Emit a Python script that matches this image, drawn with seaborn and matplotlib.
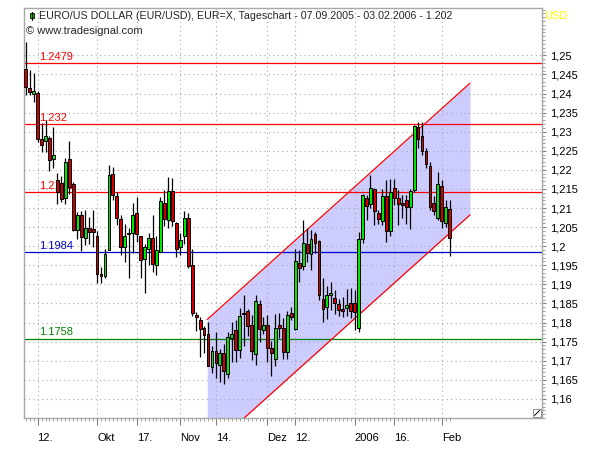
import numpy as np
import pandas as pd
import seaborn as sns
import matplotlib.pyplot as plt
from matplotlib.patches import Rectangle
from matplotlib.lines import Line2D
from matplotlib.ticker import MultipleLocator, FuncFormatter

# daily EUR/USD candles, 07.09.2005 - 03.02.2006
opens = [1.2463, 1.2414, 1.2398, 1.2402, 1.2280, 1.2275, 1.2284, 1.2228, 1.2173, 1.2165,
         1.2127, 1.2228, 1.2162, 1.2042, 1.2081, 1.2021, 1.2047, 1.2044, 1.2028, 1.1926,
         1.1921, 1.1990, 1.2190, 1.2131, 1.2070, 1.1998, 1.2034, 1.2034, 1.2087, 1.2026,
         1.1967, 1.1992, 1.2022, 1.1952, 1.1985, 1.2114, 1.2068, 1.2144, 1.2062, 1.1998,
         1.2027, 1.2075, 1.1952, 1.1819, 1.1808, 1.1787, 1.1769, 1.1684, 1.1726, 1.1690,
         1.1721, 1.1666, 1.1760, 1.1780, 1.1728, 1.1824, 1.1829, 1.1793, 1.1717, 1.1849,
         1.1781, 1.1793, 1.1734, 1.1705, 1.1793, 1.1787, 1.1723, 1.1824, 1.1784, 1.1957,
         1.1948, 1.2007, 1.1980, 1.2033, 1.2013, 1.1863, 1.1841, 1.1871, 1.1865, 1.1849,
         1.1836, 1.1839, 1.1850, 1.1850, 1.1785, 1.2020, 1.2127, 1.2111, 1.2151, 1.2088,
         1.2066, 1.2131, 1.2040, 1.2153, 1.2125, 1.2113, 1.2122, 1.2103, 1.2146, 1.2311,
         1.2288, 1.2249, 1.2209, 1.2113, 1.2075, 1.2159, 1.2061, 1.2097]
highs = [1.2535, 1.2461, 1.2455, 1.2406, 1.2322, 1.2330, 1.2290, 1.2311, 1.2193, 1.2183,
         1.2230, 1.2275, 1.2167, 1.2089, 1.2091, 1.2094, 1.2076, 1.2094, 1.2039, 1.1945,
         1.1994, 1.2212, 1.2207, 1.2141, 1.2081, 1.2057, 1.2047, 1.2112, 1.2128, 1.2028,
         1.2007, 1.2034, 1.2083, 1.2028, 1.2128, 1.2146, 1.2180, 1.2178, 1.2064, 1.2035,
         1.2093, 1.2086, 1.1994, 1.1827, 1.1814, 1.1790, 1.1801, 1.1738, 1.1774, 1.1732,
         1.1743, 1.1775, 1.1801, 1.1808, 1.1837, 1.1871, 1.1835, 1.1821, 1.1871, 1.1858,
         1.1814, 1.1821, 1.1753, 1.1823, 1.1824, 1.1811, 1.1829, 1.1841, 1.1994, 1.1991,
         1.2068, 1.2047, 1.2042, 1.2037, 1.2015, 1.1918, 1.1897, 1.1906, 1.1884, 1.1863,
         1.1866, 1.1889, 1.1890, 1.1884, 1.2037, 1.2138, 1.2133, 1.2187, 1.2153, 1.2094,
         1.2151, 1.2173, 1.2177, 1.2177, 1.2146, 1.2133, 1.2133, 1.2151, 1.2317, 1.2325,
         1.2325, 1.2256, 1.2220, 1.2131, 1.2194, 1.2173, 1.2120, 1.2120]
lows = [1.2395, 1.2395, 1.2379, 1.2273, 1.2247, 1.2248, 1.2196, 1.2204, 1.2110, 1.2115,
        1.2110, 1.2136, 1.2039, 1.2018, 1.1987, 1.2002, 1.2007, 1.1999, 1.1903, 1.1903,
        1.1918, 1.1989, 1.2120, 1.2055, 1.1976, 1.1958, 1.1918, 1.1981, 1.2010, 1.1918,
        1.1878, 1.1950, 1.1933, 1.1924, 1.1984, 1.2052, 1.2047, 1.2052, 1.1971, 1.1976,
        1.2007, 1.1942, 1.1816, 1.1777, 1.1709, 1.1719, 1.1685, 1.1667, 1.1654, 1.1643,
        1.1639, 1.1654, 1.1696, 1.1696, 1.1706, 1.1738, 1.1766, 1.1701, 1.1690, 1.1748,
        1.1769, 1.1696, 1.1659, 1.1685, 1.1759, 1.1704, 1.1704, 1.1806, 1.1780, 1.1906,
        1.1937, 1.1958, 1.1937, 1.1981, 1.1858, 1.1801, 1.1810, 1.1832, 1.1823, 1.1816,
        1.1814, 1.1816, 1.1811, 1.1780, 1.1774, 1.2008, 1.2068, 1.2099, 1.2055, 1.2059,
        1.2055, 1.2011, 1.2028, 1.2107, 1.2055, 1.2075, 1.2059, 1.2046, 1.2142, 1.2258,
        1.2238, 1.2204, 1.2094, 1.2083, 1.2068, 1.2047, 1.2050, 1.1974]
closes = [1.2416, 1.2403, 1.2407, 1.2281, 1.2266, 1.2290, 1.2226, 1.2240, 1.2142, 1.2123,
          1.2220, 1.2155, 1.2042, 1.2081, 1.2023, 1.2048, 1.2038, 1.2038, 1.1926, 1.1921,
          1.1980, 1.2187, 1.2133, 1.2074, 1.1997, 1.2028, 1.2032, 1.2083, 1.2031, 1.1965,
          1.1998, 1.2022, 1.1954, 1.1991, 1.2118, 1.2070, 1.2144, 1.2066, 1.1992, 1.2015,
          1.2075, 1.1949, 1.1825, 1.1815, 1.1782, 1.1768, 1.1687, 1.1725, 1.1694, 1.1721,
          1.1673, 1.1761, 1.1771, 1.1727, 1.1816, 1.1823, 1.1791, 1.1726, 1.1856, 1.1784,
          1.1793, 1.1734, 1.1719, 1.1787, 1.1785, 1.1722, 1.1821, 1.1814, 1.1960, 1.1943,
          1.2009, 1.1982, 1.2020, 1.2008, 1.1873, 1.1836, 1.1873, 1.1878, 1.1852, 1.1832,
          1.1830, 1.1847, 1.1829, 1.1828, 1.2018, 1.2135, 1.2105, 1.2153, 1.2092, 1.2072,
          1.2131, 1.2040, 1.2142, 1.2125, 1.2111, 1.2107, 1.2103, 1.2144, 1.2314, 1.2282,
          1.2249, 1.2216, 1.2103, 1.2092, 1.2162, 1.2066, 1.2104, 1.2022]

tick_dates = ['2005-09-12', '2005-10-03', '2005-10-17', '2005-11-01', '2005-11-14',
              '2005-12-01', '2005-12-12', '2006-01-02', '2006-01-16', '2006-02-01']
tick_labels = ['12.', 'Okt', '17.', 'Nov', '14.', 'Dez', '12.', '2006', '16.', 'Feb']

level_values = [1.2479, 1.232, 1.2141, 1.1984, 1.1758]
level_labels = ['1.2479', '1.232', '1.2141', '1.1984', '1.1758']
level_colors = ['#ff0000', '#ff0000', '#ff0000', '#0000cc', '#008000']

# trend channel (bar index, price)
chan_x = [45.8, 112.1]
chan_upper = [1.1808, 1.2427]
chan_lower = [1.1463, 1.2082]

df = pd.DataFrame({'date': pd.bdate_range('2005-09-07', periods=len(opens)),
                   'open': opens, 'high': highs, 'low': lows, 'close': closes})
df['i'] = np.arange(len(df))
bull = df['close'] >= df['open']

sns.set_theme(style='white')
plt.rcParams['font.family'] = ['Liberation Sans', 'DejaVu Sans']

fig = plt.figure(figsize=(6, 4.5), dpi=100)
ax = fig.add_axes([24 / 600, 1 - 418 / 450, 517.5 / 600, 410 / 450])

# channel
ax.fill_between(chan_x, chan_lower, chan_upper, color='#ccccff', lw=0, zorder=0.2)
sns.lineplot(x=chan_x, y=chan_upper, color='#ff0000', lw=0.9, ax=ax, zorder=2)
sns.lineplot(x=chan_x, y=chan_lower, color='#ff0000', lw=0.9, ax=ax, zorder=2)

# horizontal levels
for v, lab, c in zip(level_values, level_labels, level_colors):
    ax.axhline(v, color=c, lw=0.9, zorder=1.5)
    ax.text(0.029, v + 0.0003, lab, transform=ax.get_yaxis_transform(),
            color=c, fontsize=8, va='bottom', ha='left', zorder=1.6)

# candles
ax.vlines(df['i'], df['low'], df['high'], color='black', lw=0.9, zorder=3)
ax.bar(df['i'], (df['close'] - df['open']).abs(),
       bottom=df[['open', 'close']].min(axis=1), width=0.72,
       color=np.where(bull, '#00e600', '#cc0000'), edgecolor='black',
       linewidth=0.7, zorder=4)

ax.set_xlim(-0.43, 130.15)
ax.set_ylim(1.1550, 1.2624)

tick_idx = [int(df.index[df['date'] == pd.Timestamp(d)][0]) for d in tick_dates]
ax.set_xticks(tick_idx)
ax.set_xticklabels(tick_labels)
for lab in ax.get_xticklabels():
    lab.set_ha('left')
ax.set_xticks(df['i'], minor=True)

ax.set_yticks(np.arange(1.16, 1.2501, 0.005))
ax.yaxis.set_minor_locator(MultipleLocator(0.001))
ax.yaxis.set_major_formatter(FuncFormatter(
    lambda v, p: f"{v:.3f}".rstrip('0').rstrip('.').replace('.', ',')))
ax.yaxis.tick_right()

ax.tick_params(axis='x', which='major', bottom=True, length=5, width=0.8,
               color='#808080', labelsize=8, pad=6, labelcolor='black')
ax.tick_params(axis='x', which='minor', bottom=True, length=2.5, width=0.6,
               color='#909090')
ax.tick_params(axis='y', which='major', right=True, left=False, length=3, width=0.8,
               color='#808080', labelsize=8, pad=3, labelcolor='black')
ax.tick_params(axis='y', which='minor', right=True, left=False, length=2,
               width=0.6, color='#909090')

ax.grid(True, which='major', color='#a8a8a8', lw=0.8, ls=(0, (1, 3)))
ax.set_axisbelow(True)
for sp in ax.spines.values():
    sp.set_color('#a8a8a8')
    sp.set_linewidth(1)
ax.set_xlabel('')
ax.set_ylabel('')

# corner marker bottom right
fig.add_artist(Rectangle((533 / 600, 1 - 417 / 450), 8 / 600, 8 / 450,
                         transform=fig.transFigure, fc='white', ec='#808080', lw=0.6))
fig.add_artist(Line2D([534.5 / 600, 539.5 / 600], [1 - 415.5 / 450, 1 - 410.5 / 450],
                      transform=fig.transFigure, color='black', lw=0.7))

# header
fig.add_artist(Line2D([32 / 600] * 2, [1 - 19.5 / 450, 1 - 11.5 / 450],
                      transform=fig.transFigure, color='black', lw=0.8))
fig.add_artist(Rectangle((30 / 600, 1 - 17.5 / 450), 4 / 600, 4.5 / 450,
                         transform=fig.transFigure, fc='#00cc00', ec='black', lw=0.6))
fig.text(39 / 600, 1 - 16 / 450,
         'EURO/US DOLLAR (EUR/USD), EUR=X, Tageschart - 07.09.2005 - 03.02.2006 - 1.202',
         fontsize=7.7, va='center', ha='left')
fig.text(26 / 600, 1 - 31.5 / 450, '\u00a9 www.tradesignal.com',
         fontsize=8, va='center', ha='left')
fig.text(544 / 600, 1 - 16 / 450, 'USD', color='#ffff00', fontsize=8,
         va='center', ha='left')

fig.savefig('out.png', dpi=100)
